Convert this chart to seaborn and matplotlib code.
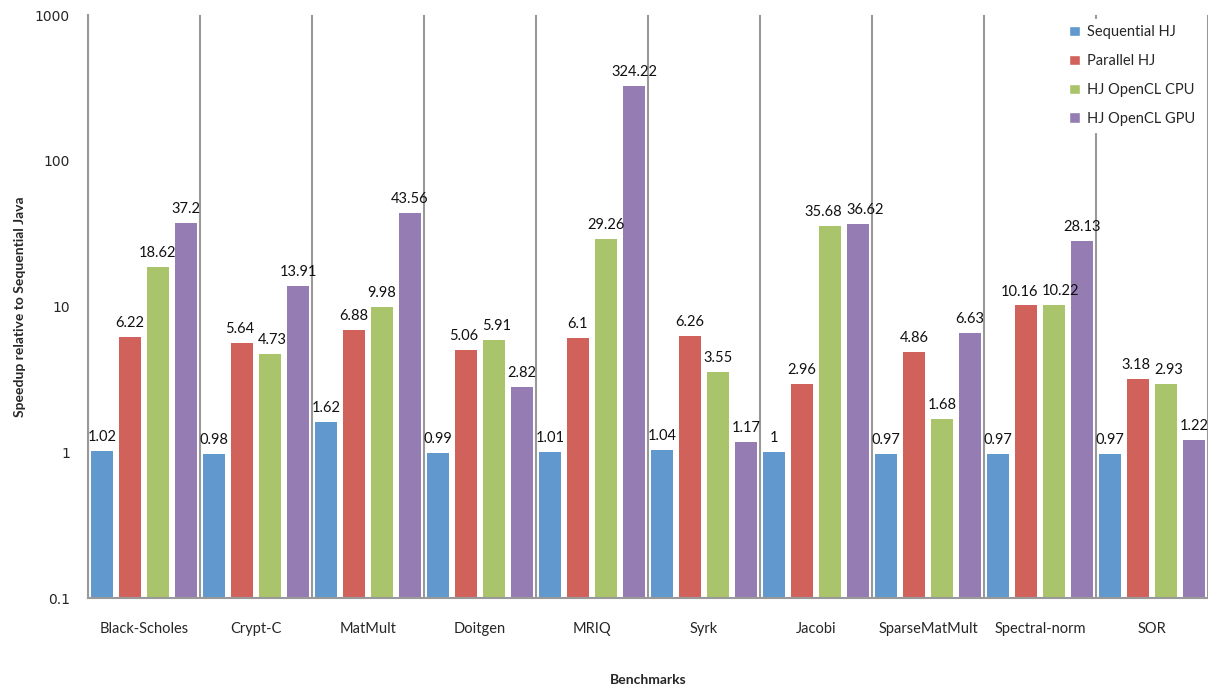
import matplotlib
matplotlib.use("Agg")
import matplotlib.pyplot as plt
import seaborn as sns
import pandas as pd
import numpy as np
from matplotlib.ticker import FixedLocator, FixedFormatter, NullLocator

benchmarks = ["Black-Scholes", "Crypt-C", "MatMult", "Doitgen", "MRIQ",
              "Syrk", "Jacobi", "SparseMatMult", "Spectral-norm", "SOR"]
series = ["Sequential HJ", "Parallel HJ", "HJ OpenCL CPU", "HJ OpenCL GPU"]
seq_hj = [1.02, 0.98, 1.62, 0.99, 1.01, 1.04, 1, 0.97, 0.97, 0.97]
par_hj = [6.22, 5.64, 6.88, 5.06, 6.1, 6.26, 2.96, 4.86, 10.16, 3.18]
ocl_cpu = [18.62, 4.73, 9.98, 5.91, 29.26, 3.55, 35.68, 1.68, 10.22, 2.93]
ocl_gpu = [37.2, 13.91, 43.56, 2.82, 324.22, 1.17, 36.62, 6.63, 28.13, 1.22]
y_ticks = [0.1, 1, 10, 100, 1000]
y_tick_labels = ["0.1", "1", "10", "100", "1000"]
colors = ["#6199CE", "#D0625B", "#A9C46A", "#957DB4"]

values = [seq_hj, par_hj, ocl_cpu, ocl_gpu]
rows = []
for s, vals in zip(series, values):
    for b, v in zip(benchmarks, vals):
        rows.append({"Benchmark": b, "Series": s, "Value": v})
df = pd.DataFrame(rows)

sns.set_style("white")
plt.rcParams["font.family"] = ["Lato", "DejaVu Sans"]

fig = plt.figure(figsize=(12.08, 6.85), dpi=100)
ax = fig.add_axes([88 / 1208, 87 / 685, 1 - 88 / 1208, (598 - 15) / 685])
ax.set_yscale("log")
sns.barplot(data=df, x="Benchmark", y="Value", hue="Series", order=benchmarks,
            hue_order=series, palette=colors, width=1.0, ax=ax,
            errorbar=None, saturation=1, legend=True)

# shrink bars to leave gaps
for patch in ax.patches:
    w = patch.get_width()
    if w <= 0:
        continue
    cx = patch.get_x() + w / 2
    nw = w * 0.77
    patch.set_x(cx - nw / 2)
    patch.set_width(nw)
    patch.set_edgecolor("none")

label_sets = []
for cont, vals in zip(ax.containers, values):
    labels = [f"{v:g}" for v in vals]
    anns = ax.bar_label(cont, labels=labels, padding=5, fontsize=10.5, color="#111111")
    label_sets.append(anns)

ax.set_ylim(0.1, 1000)
ax.set_xlim(-0.5, len(benchmarks) - 0.5)
ax.yaxis.set_major_locator(FixedLocator(y_ticks))
ax.yaxis.set_major_formatter(FixedFormatter(y_tick_labels))
ax.yaxis.set_minor_locator(NullLocator())
ax.xaxis.set_minor_locator(FixedLocator(np.arange(-0.5, len(benchmarks), 1.0)))
ax.grid(False)
ax.grid(True, which="minor", axis="x", color="#999999", lw=1.5)
ax.set_axisbelow(True)
ax.tick_params(axis="x", which="major", length=0, pad=17, labelsize=10.5)
ax.tick_params(axis="x", which="minor", length=5, color="#999999", width=1.5, direction="out")
ax.tick_params(axis="y", which="major", length=5, color="#999999", width=1.5,
               direction="out", labelsize=10.5, pad=8)
for lab in ax.get_yticklabels():
    lab.set_fontfamily(["DejaVu Sans"])
    lab.set_fontsize(10)

for side in ["top", "right"]:
    ax.spines[side].set_visible(False)
for side in ["left", "bottom"]:
    ax.spines[side].set_color("#999999")
    ax.spines[side].set_linewidth(1.5)

ax.set_xlabel("Benchmarks", fontweight="bold", fontsize=10, labelpad=28)
ax.set_ylabel("Speedup relative to Sequential Java", fontweight="bold", fontsize=10, labelpad=6)

leg = ax.legend(loc="upper right", bbox_to_anchor=(1.0, 1.005), frameon=True,
                facecolor="white", edgecolor="white", framealpha=1,
                handlelength=0.75, handleheight=0.75, handletextpad=0.45,
                labelspacing=1.02, fontsize=10.5, borderpad=0.4)

# resolve overlapping value labels within each group (like Excel does)
fig.canvas.draw()
renderer = fig.canvas.get_renderer()
px_to_pt = 72.0 / fig.dpi
for _ in range(6):
    moved = False
    for i in range(len(benchmarks)):
        group = [label_sets[k][i] for k in range(len(series))]
        for a, b in zip(group[:-1], group[1:]):
            ba = a.get_window_extent(renderer)
            bb = b.get_window_extent(renderer)
            if ba.y1 > bb.y0 and bb.y1 > ba.y0:
                ov = ba.x1 + 4 - bb.x0
                if ov > 0:
                    dxa, dya = a.xyann
                    dxb, dyb = b.xyann
                    a.xyann = (dxa - ov / 2 * px_to_pt, dya)
                    b.xyann = (dxb + ov / 2 * px_to_pt, dyb)
                    moved = True
    if not moved:
        break
    fig.canvas.draw()

fig.savefig("out.png", dpi=100)
